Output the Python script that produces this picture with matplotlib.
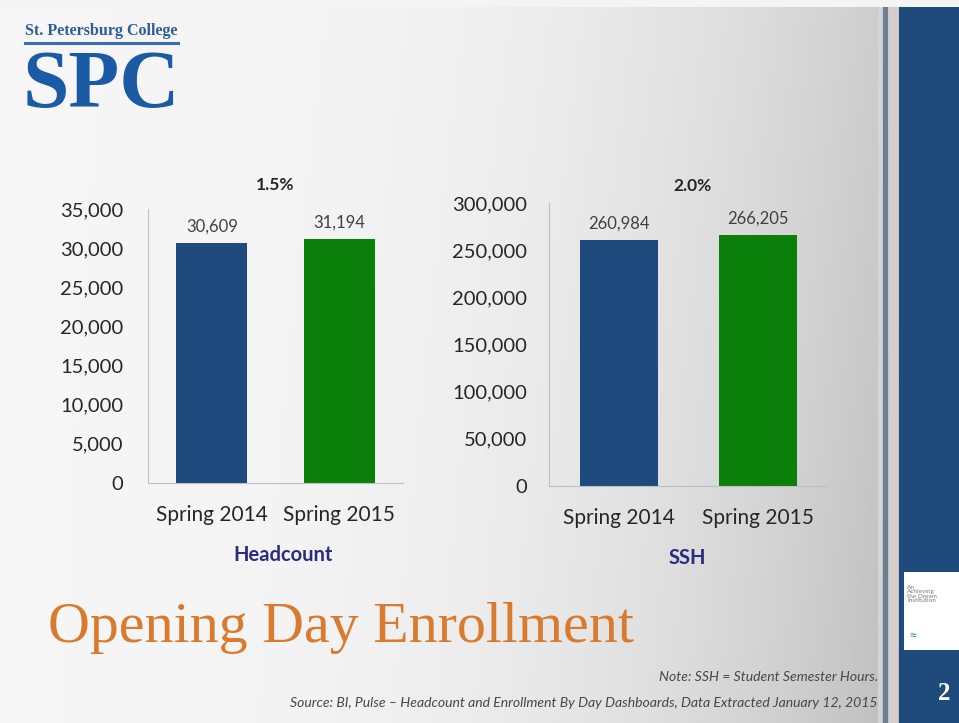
import numpy as np
import matplotlib
matplotlib.use("Agg")
import matplotlib.pyplot as plt
from matplotlib.patches import Rectangle

# enrollment figures, opening day
terms = ["Spring 2014", "Spring 2015"]
headcount = [30609, 31194]
ssh = [260984, 266205]
headcount_change = "1.5%"
ssh_change = "2.0%"
headcount_ticks = [0, 5000, 10000, 15000, 20000, 25000, 30000, 35000]
ssh_ticks = [0, 50000, 100000, 150000, 200000, 250000, 300000]

BAR_COLORS = ["#1F4A7E", "#0A7F0A"]
W, H = 959, 723

plt.rcParams["font.family"] = ["Lato", "DejaVu Sans"]

fig = plt.figure(figsize=(W / 100, H / 100), dpi=100)


def fx(px):
    return px / W


def fy(py):
    return 1 - py / H


# slide background: light on the left, greying out toward the right edge
bg = fig.add_axes([0, 0, 1, 1], zorder=-10)
xx, yy = np.meshgrid(np.linspace(0, 1, W), np.linspace(0, 1, H))
shade = 0.965 - 0.16 * (xx / 0.92) ** 3 - 0.05 * (xx / 0.92) ** 2 * yy
shade = np.clip(shade, 0, 1)
bg.imshow(np.dstack([shade, shade, shade]), aspect="auto", extent=[0, 1, 0, 1], origin="upper")
bg.set_xlim(0, 1)
bg.set_ylim(0, 1)
bg.axis("off")

# right-hand side band
bg.add_patch(Rectangle((fx(899), 0), 1 - fx(899), fy(7), color="#1F4A7C", lw=0))
bg.add_patch(Rectangle((fx(883), 0), fx(5), fy(7), color="#6F7F90", lw=0))
bg.add_patch(Rectangle((fx(889), 0), fx(9), fy(7), color="#D6CDCD", lw=0))
bg.add_patch(Rectangle((fx(878), 0), fx(4), fy(7), color="#D0D6DC", lw=0))
bg.add_patch(Rectangle((fx(0), fy(7)), 1, 1 - fy(7), color="#F4F4F4", lw=0))
bg.add_patch(Rectangle((fx(904), fy(650)), fx(55), fy(572) - fy(650), color="white", lw=0))
fig.text(fx(907), fy(594), "An\nAchieving\nthe Dream\nInstitution", fontsize=4.6,
         color="#777777", va="center", ha="left", linespacing=0.85)
fig.text(fx(909), fy(636), "≈", fontsize=11, color="#2E9A5A", va="center", ha="left")
fig.text(fx(944), fy(694), "2", fontsize=18, color="white", fontweight="bold",
         family="Liberation Serif", ha="center", va="center")

# college logo
fig.text(fx(25), fy(31), "St. Petersburg College", fontsize=11.5, fontweight="bold",
         family="Liberation Serif", color="#2C5C9E", ha="left", va="center")
bg.plot([fx(25), fx(178)], [fy(43), fy(43)], color="#3D6EB2", lw=2.2)
fig.text(fx(23), fy(87), "SPC", fontsize=60, fontweight="bold", family="Liberation Serif",
         color="#1B5AA5", ha="left", va="center")


def draw_panel(rect, values, ticks, change, change_xy, label, label_xy, pad):
    ax = fig.add_axes(rect)
    ax.set_facecolor("none")
    bars = ax.bar(terms, values, width=0.56, color=BAR_COLORS)
    ax.set_xlim(-0.5, 1.5)
    ax.set_ylim(0, ticks[-1])
    ax.set_yticks(ticks)
    ax.set_yticklabels([f"{t:,}" for t in ticks])
    ax.bar_label(bars, labels=[f"{v:,}" for v in values], padding=6,
                 fontsize=12, color="#404040")
    for side in ["top", "right"]:
        ax.spines[side].set_visible(False)
    for side in ["left", "bottom"]:
        ax.spines[side].set_color("#BFBFBF")
    ax.tick_params(axis="y", length=0, pad=pad, labelsize=14.5, labelcolor="#262626")
    ax.tick_params(axis="x", length=0, pad=16, labelsize=15, labelcolor="#262626")
    fig.text(fx(change_xy[0]), fy(change_xy[1]), change, fontsize=12.5, fontweight="bold",
             color="#262626", ha="center", va="center")
    fig.text(fx(label_xy[0]), fy(label_xy[1]), label, fontsize=14.5, fontweight="bold",
             color="#2B2B80", ha="center", va="center")
    return ax


draw_panel([fx(148), fy(483), fx(403) - fx(148), fy(209) - fy(483)],
           headcount, headcount_ticks, headcount_change, (275, 185),
           "Headcount", (283, 555), 18)
draw_panel([fx(549), fy(486), fx(828) - fx(549), fy(203) - fy(486)],
           ssh, ssh_ticks, ssh_change, (692, 186), "SSH", (687, 558), 16)

fig.text(fx(48), fy(628), "Opening Day Enrollment", fontsize=41.8,
         family="Liberation Serif", color="#DA7A2E", ha="left", va="center")

fig.text(fx(878), fy(677), "Note: SSH = Student Semester Hours.", fontsize=10.1,
         style="italic", color="#474747", ha="right", va="center")
fig.text(fx(878), fy(703),
         "Source: BI, Pulse \u2013 Headcount and Enrollment By Day Dashboards, "
         "Data Extracted January 12, 2015",
         fontsize=10.1, style="italic", color="#474747", ha="right", va="center")

fig.savefig("out.png", dpi=100)
